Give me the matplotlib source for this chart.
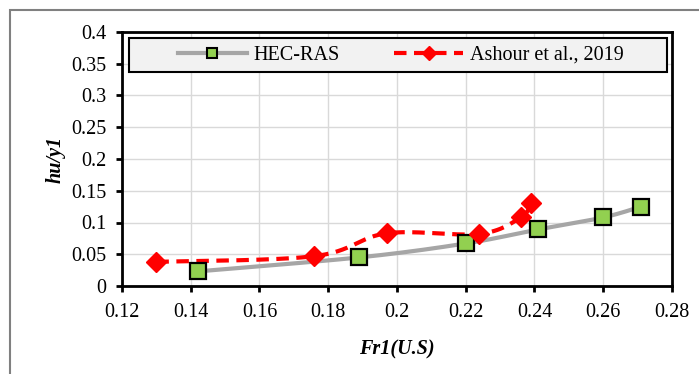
import matplotlib.pyplot as plt
import matplotlib.patches as mpatches
import numpy as np

# HEC-RAS results
hec_fr = [0.142, 0.189, 0.220, 0.241, 0.260, 0.271]
hec_hu = [0.023, 0.045, 0.067, 0.089, 0.108, 0.125]

# Ashour et al., 2019
ash_fr = [0.130, 0.176, 0.197, 0.224, 0.236, 0.239]
ash_hu = [0.038, 0.047, 0.083, 0.082, 0.108, 0.130]

x_ticks = [0.12, 0.14, 0.16, 0.18, 0.2, 0.22, 0.24, 0.26, 0.28]
y_ticks = [0, 0.05, 0.1, 0.15, 0.2, 0.25, 0.3, 0.35, 0.4]

FONT = "Liberation Serif"
GREEN = "#92d050"
GREY_LINE = "#a6a6a6"
RED = "#ff0000"


def smooth(xs, ys, n=30):
    # cubic Bezier through the points, Catmull-Rom style control points
    x = np.asarray(xs, float)
    y = np.asarray(ys, float)
    px = np.concatenate([[x[0]], x, [x[-1]]])
    py = np.concatenate([[y[0]], y, [y[-1]]])
    out_x, out_y = [], []
    t = np.linspace(0, 1, n)
    for i in range(1, len(px) - 2):
        p0 = np.array([px[i], py[i]])
        p3 = np.array([px[i + 1], py[i + 1]])
        c1 = p0 + (np.array([px[i + 1], py[i + 1]]) - np.array([px[i - 1], py[i - 1]])) / 6
        c2 = p3 - (np.array([px[i + 2], py[i + 2]]) - np.array([px[i], py[i]])) / 6
        b = ((1 - t) ** 3)[:, None] * p0 + (3 * (1 - t) ** 2 * t)[:, None] * c1 \
            + (3 * (1 - t) * t ** 2)[:, None] * c2 + (t ** 3)[:, None] * p3
        out_x.extend(b[:, 0])
        out_y.extend(b[:, 1])
    return out_x, out_y


fig = plt.figure(figsize=(6.99, 3.74), dpi=100)
fig.patch.set_facecolor("white")
fig.patches.append(mpatches.Rectangle((10 / 699, -0.1), 1.2, 1 - 10 / 374 + 0.1,
                                      transform=fig.transFigure, fill=False,
                                      edgecolor="#808080", lw=1.5))

ax = fig.add_axes([122 / 699, 1 - 286 / 374, 550 / 699, 254 / 374])

sx, sy = smooth(hec_fr, hec_hu)
ax.plot(sx, sy, color=GREY_LINE, lw=3, zorder=3)
ax.plot(hec_fr, hec_hu, ls="none", marker="s", ms=12, mfc=GREEN, mec="black",
        mew=1.6, zorder=5)

rx, ry = smooth(ash_fr, ash_hu)
ax.plot(rx, ry, color=RED, lw=3, dashes=(3, 1.8), zorder=4)
ax.plot(ash_fr, ash_hu, ls="none", marker="D", ms=10, mfc=RED, mec=RED, zorder=6)

# legend box
ax.add_patch(mpatches.Rectangle((0.0127, 0.8425), 0.9783, 0.1335,
                                transform=ax.transAxes, facecolor="#f2f2f2",
                                edgecolor="black", lw=1.5, zorder=9))
h1, = ax.plot([], [], color=GREY_LINE, lw=3, marker="s", ms=7, mfc=GREEN,
              mec="black", mew=1.5)
h2, = ax.plot([], [], color=RED, lw=3, dashes=(3, 1.8), marker="D", ms=7,
              mfc=RED, mec=RED)
leg = ax.legend([h1, h2], ["HEC-RAS", "Ashour et al., 2019"], ncol=2,
                loc="center", bbox_to_anchor=(0.507, 0.909), frameon=False,
                handlelength=3.4, handletextpad=0.35, columnspacing=2.7,
                borderaxespad=0, borderpad=0,
                prop={"family": FONT, "size": 14.5})
leg.set_zorder(10)

ax.set_xlim(0.12, 0.28)
ax.set_ylim(0, 0.4)
ax.set_xticks(x_ticks)
ax.set_yticks(y_ticks)
ax.set_xticklabels([f"{v:g}" for v in x_ticks])
ax.set_yticklabels([f"{v:g}" for v in y_ticks])
ax.grid(True, color="#d9d9d9", lw=1)
ax.set_axisbelow(True)

for spine in ax.spines.values():
    spine.set_linewidth(2)
    spine.set_color("black")
ax.tick_params(direction="out", length=4, width=2, color="black")
ax.tick_params(axis="x", pad=8)
ax.tick_params(axis="y", pad=7)
for lab in ax.get_xticklabels() + ax.get_yticklabels():
    lab.set_fontfamily(FONT)
    lab.set_fontsize(14.5)

ax.set_xlabel("Fr1(U.S)", fontfamily=FONT, fontsize=14.5, fontweight="bold",
              fontstyle="italic", labelpad=13)
ax.set_ylabel("hu/y1", fontfamily=FONT, fontsize=14.5, fontweight="bold",
              fontstyle="italic", labelpad=4)

fig.savefig("out.png", dpi=100)
